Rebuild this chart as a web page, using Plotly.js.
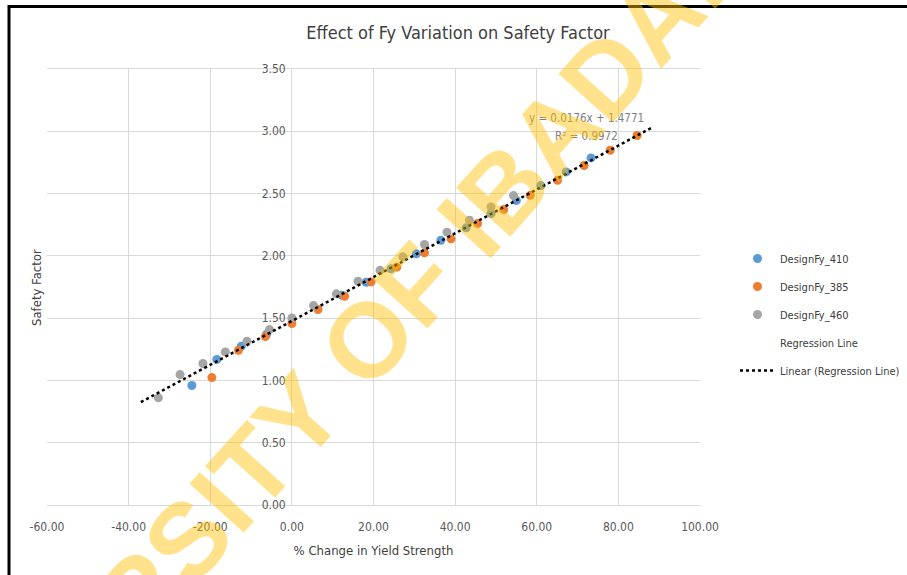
<!DOCTYPE html>
<html>
<head>
<meta charset="utf-8">
<script src="https://cdn.plot.ly/plotly-3.0.1.min.js"></script>
<style>
  html, body { margin: 0; padding: 0; background: #ffffff; }
  #chart { width: 907px; height: 575px; }
</style>
</head>
<body>
<div id="chart"></div>
<script>
// ---------------- DATA ----------------
var fy410X = [-24.5, -18.4, -12.4, -6.2, 12.3, 18.2, 24.3, 30.5, 36.5, 42.7, 48.8, 55.0, 61.0, 67.2, 73.3];
var fy410Y = [0.959, 1.168, 1.274, 1.370, 1.684, 1.788, 1.896, 2.016, 2.125, 2.225, 2.339, 2.444, 2.564, 2.674, 2.786];

var fy385X = [-19.6, -13.1, -6.5, 0.0, 6.4, 12.9, 19.4, 25.7, 32.5, 39.0, 45.5, 51.9, 58.4, 65.1, 71.6, 78.0, 84.6];
var fy385Y = [1.023, 1.242, 1.352, 1.457, 1.569, 1.676, 1.791, 1.909, 2.024, 2.136, 2.259, 2.372, 2.486, 2.607, 2.725, 2.848, 2.966];

var fy460X = [-32.7, -27.4, -21.8, -16.3, -11.0, -5.5, 0.0, 5.3, 10.9, 16.2, 21.6, 27.2, 32.5, 38.0, 43.5, 48.8, 54.3];
var fy460Y = [0.860, 1.047, 1.136, 1.229, 1.315, 1.408, 1.502, 1.601, 1.695, 1.796, 1.884, 1.992, 2.091, 2.190, 2.286, 2.393, 2.484];

// Regression (trendline) parameters as printed on the chart
var trendSlope = [0.0176];
var trendIntercept = [1.4771];
var trendR2 = [0.9972];
var trendX = [-37, 88];

var seriesNames = ["DesignFy_410", "DesignFy_385", "DesignFy_460", "Regression Line", "Linear (Regression Line)"];
var xTickVals = [-60, -40, -20, 0, 20, 40, 60, 80, 100];
var xTickText = ["-60.00", "-40.00", "-20.00", "0.00", "20.00", "40.00", "60.00", "80.00", "100.00"];
var yTickVals = [0, 0.5, 1, 1.5, 2, 2.5, 3, 3.5];
var yTickText = ["0.00", "0.50", "1.00", "1.50", "2.00", "2.50", "3.00", "3.50"];

var titleText = "Effect of Fy Variation on Safety Factor";
var xTitleText = "% Change in Yield Strength";
var yTitleText = "Safety Factor";
var watermarkText = "UNIVERSITY OF IBADAN";

// ---------------- STYLE / LAYOUT ----------------
var FONT = "'DejaVu Sans Condensed', 'Liberation Sans Narrow', sans-serif";
var W = 907, H = 575;
var M = {l: 47, r: 207, t: 69, b: 70};
var plotW = W - M.l - M.r, plotH = H - M.t - M.b;
function px2paperX(px) { return (px - M.l) / plotW; }
function px2paperY(py) { return (H - M.b - py) / plotH; }

var trendY = trendX.map(function (x) { return trendSlope[0] * x + trendIntercept[0]; });

function fmt(v, d) { return v.toFixed(d); }
var eqText = "y = " + fmt(trendSlope[0], 4) + "x + " + fmt(trendIntercept[0], 4);
var r2Text = "R² = " + fmt(trendR2[0], 4);

var traces = [
  {x: fy410X, y: fy410Y, name: seriesNames[0], mode: "markers", type: "scatter", legendgroup: "a",
   marker: {color: "#5B9BD5", size: 9}},
  {x: fy385X, y: fy385Y, name: seriesNames[1], mode: "markers", type: "scatter", legendgroup: "b",
   marker: {color: "#ED7D31", size: 9}},
  {x: fy460X, y: fy460Y, name: seriesNames[2], mode: "markers", type: "scatter", legendgroup: "c",
   marker: {color: "#A5A5A5", size: 9}},
  {x: trendX, y: trendY, name: seriesNames[3], mode: "markers", type: "scatter", legendgroup: "d",
   marker: {color: "rgba(0,0,0,0)", size: 9}},
  {x: trendX, y: trendY, name: seriesNames[4], mode: "lines", type: "scatter", legendgroup: "e",
   line: {color: "#000000", width: 2.5, dash: "dot"}}
];

var gridC = "#d9d9d9";
var tickFont = {family: FONT, size: 12, color: "#595959"};

var layout = {
  width: W, height: H,
  margin: M,
  paper_bgcolor: "#ffffff", plot_bgcolor: "#ffffff",
  font: {family: FONT, size: 12, color: "#404040"},
  title: {text: titleText, x: 0.505, xref: "container", xanchor: "center",
          y: 1 - 33 / H, yref: "container", yanchor: "middle",
          font: {family: FONT, size: 18, color: "#404040"}},
  xaxis: {range: [-60, 100], tickvals: xTickVals, ticktext: xTickText,
          showgrid: true, gridcolor: gridC, gridwidth: 1, zeroline: false,
          showline: true, linecolor: gridC, mirror: true, ticks: "",
          ticklabelstandoff: 11,
          tickfont: tickFont, fixedrange: true,
          title: {text: xTitleText, font: {family: FONT, size: 13, color: "#404040"}, standoff: 12}},
  yaxis: {range: [0, 3.5], tickvals: yTickVals, ticktext: yTickText,
          showgrid: true, gridcolor: gridC, gridwidth: 1, zeroline: false,
          showline: false, ticks: "", anchor: "free", position: px2paperX(291.7),
          ticklabelstandoff: 6,
          tickfont: tickFont, fixedrange: true},
  showlegend: true,
  legend: {x: 735 / W, xref: "container", xanchor: "left",
           y: 1 - 244 / H, yref: "container", yanchor: "top",
           traceorder: "grouped", tracegroupgap: 9, itemwidth: 35,
           font: {family: FONT, size: 11, color: "#404040"},
           bgcolor: "rgba(0,0,0,0)", borderwidth: 0},
  annotations: [
    {text: eqText, x: 72.3, y: 3.106, xref: "x", yref: "y", showarrow: false,
     xanchor: "center", yanchor: "middle", font: {family: FONT, size: 11.5, color: "#7f7f7f"}},
    {text: r2Text, x: 72.3, y: 2.962, xref: "x", yref: "y", showarrow: false,
     xanchor: "center", yanchor: "middle", font: {family: FONT, size: 11.5, color: "#7f7f7f"}},
    {text: yTitleText, x: px2paperX(36), y: px2paperY(288), xref: "paper", yref: "paper",
     showarrow: false, textangle: -90, xanchor: "center", yanchor: "middle",
     font: {family: FONT, size: 13, color: "#404040"}},
    {text: "<b>" + watermarkText + "</b>", x: px2paperX(315), y: px2paperY(398), xref: "paper", yref: "paper",
     showarrow: false, textangle: -48, xanchor: "center", yanchor: "middle", opacity: 0.45,
     font: {family: "'Liberation Sans', Arial, sans-serif", size: 106, color: "#FFC000"}}
  ],
  shapes: [
    {type: "line", xref: "paper", yref: "paper", x0: px2paperX(9), x1: px2paperX(W + 5),
     y0: px2paperY(6.5), y1: px2paperY(6.5), line: {color: "#000000", width: 3}},
    {type: "line", xref: "paper", yref: "paper", x0: px2paperX(9), x1: px2paperX(9),
     y0: px2paperY(5), y1: px2paperY(H + 5), line: {color: "#000000", width: 3}}
  ]
};

Plotly.newPlot("chart", traces, layout, {displayModeBar: false, staticPlot: true});
</script>
</body>
</html>
